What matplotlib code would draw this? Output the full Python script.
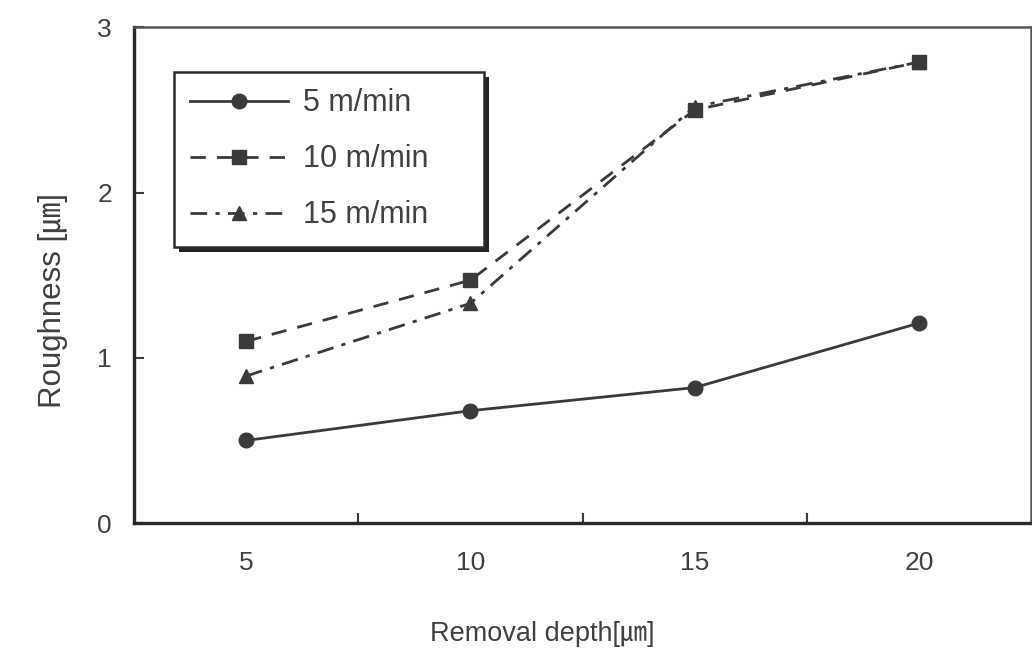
import matplotlib
matplotlib.use("Agg")
import matplotlib.pyplot as plt
from matplotlib.patches import Rectangle

plt.rcParams['font.family'] = ['Liberation Sans', 'Noto Sans CJK KR', 'DejaVu Sans']

# Removal depth [um] and measured roughness [um] per feed speed
depth = [5, 10, 15, 20]
speed_labels = ['5 m/min', '10 m/min', '15 m/min']
rough_5 = [0.50, 0.68, 0.82, 1.21]
rough_10 = [1.10, 1.47, 2.50, 2.79]
rough_15 = [0.89, 1.33, 2.52, 2.79]

x_ticks = [5, 10, 15, 20]
x_bounds = [7.5, 12.5, 17.5]
y_ticks = [0, 1, 2, 3]

ink = '#3a3a3a'
text_c = '#404040'

fig = plt.figure(figsize=(10.32, 6.53), dpi=100)
ax = fig.add_axes([0.130, 0.199, 0.869, 0.759])

ax.plot(depth, rough_5, color=ink, lw=2.0, ls='-', marker='o', ms=10.5,
        label=speed_labels[0])
ax.plot(depth, rough_10, color=ink, lw=2.0, ls=(0, (5.5, 4)), marker='s', ms=10,
        label=speed_labels[1])
ax.plot(depth, rough_15, color=ink, lw=2.0, ls=(0, (6, 3, 1.5, 3)), marker='^', ms=10.5,
        label=speed_labels[2])

ax.set_xlim(2.5, 22.5)
ax.set_ylim(0, 3)

ax.set_xticks(x_ticks)
ax.set_xticklabels([str(v) for v in x_ticks])
ax.set_xticks(x_bounds, minor=True)
ax.tick_params(axis='x', which='major', length=0, pad=20, labelsize=19, labelcolor=text_c)
ax.tick_params(axis='x', which='minor', direction='in', length=7, width=1.5, color=ink)

ax.set_yticks(y_ticks)
ax.tick_params(axis='y', which='major', direction='in', length=7, width=1.5,
               color=ink, pad=16, labelsize=19, labelcolor=text_c)

for side in ['left', 'bottom']:
    ax.spines[side].set_linewidth(2.4)
    ax.spines[side].set_color('#2a2a2a')
for side in ['top', 'right']:
    ax.spines[side].set_linewidth(1.8)
    ax.spines[side].set_color('#555555')

ax.set_xlabel('Removal depth[㎛]', fontsize=19.5, color=text_c)
ax.set_ylabel('Roughness [㎛]', fontsize=22.5, color=text_c)
ax.xaxis.set_label_coords(0.455, -0.198)
ax.yaxis.set_label_coords(-0.074, 0.45)

leg = ax.legend(loc='upper left', bbox_to_anchor=(0.044, 0.911, 0.346, 0.0),
                mode='expand', borderaxespad=0, fontsize=22, handlelength=3.2,
                handletextpad=0.5, labelspacing=0.85, borderpad=0.55,
                fancybox=False, framealpha=1, edgecolor='#2a2a2a')
leg.get_frame().set_linewidth(1.8)
for t in leg.get_texts():
    t.set_color(text_c)

# drop shadow along the right and bottom of the legend box
fig.canvas.draw()
bb = leg.get_window_extent().transformed(fig.transFigure.inverted())
dx, dy = 5 / 1032, 5 / 653
shadow = Rectangle((bb.x0 + dx, bb.y0 - dy), bb.width, bb.height,
                   transform=fig.transFigure, facecolor='#222222',
                   edgecolor='none', zorder=4.5)
ax.add_artist(shadow)
shadow.set_clip_on(False)

fig.savefig('out.png', dpi=100)
